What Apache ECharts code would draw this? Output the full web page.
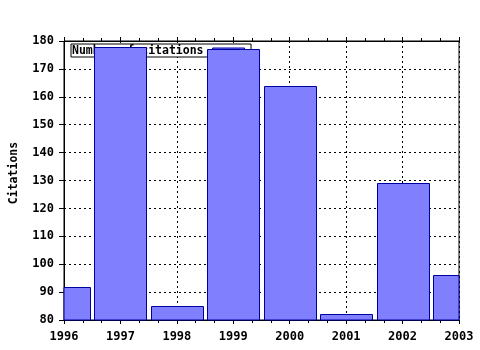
<!DOCTYPE html>
<html><head><meta charset="utf-8">
<script src="https://cdn.jsdelivr.net/npm/echarts@6/dist/echarts.min.js"></script>
<style>html,body{margin:0;padding:0;background:#fff}#c{width:480px;height:350px}</style>
</head><body><div id="c"></div>
<script>
var years = [1996, 1997, 1998, 1999, 2000, 2001, 2002, 2003];
var citations = [92, 178, 85, 177, 164, 82, 129, 96];
var yTicks = [80, 90, 100, 110, 120, 130, 140, 150, 160, 170, 180];
var seriesName = 'Number of citations';
var yName = 'Citations';

var FONT = 'DejaVu Sans Mono';
var chart = echarts.init(document.getElementById('c'), null, {renderer: 'canvas'});
var data = years.map(function (y, i) { return [y, citations[i]]; });
var dotted = {show: true, lineStyle: {color: '#000', type: [2, 3], width: 1}};
var lbl = {fontFamily: FONT, fontWeight: 'bold', fontSize: 12, color: '#000'};
var yMin = yTicks[0];
function renderBar(params, api) {
  var x = api.value(0), v = api.value(1);
  var top = api.coord([x, v]);
  var base = api.coord([x, yMin]);
  var w = api.size([1, 0])[0] * 0.92;
  var cs = params.coordSys;
  var r = echarts.graphic.clipRectByRect(
    {x: Math.round(top[0] - w / 2) + 0.5, y: Math.round(top[1]) + 0.5, width: Math.round(w), height: base[1] - top[1]},
    {x: cs.x, y: cs.y, width: cs.width, height: cs.height});
  if (!r) return null;
  return {type: 'rect', shape: r, style: api.style()};
}
chart.setOption({
  animation: false,
  grid: {left: 64, right: 21, top: 41, bottom: 30, show: true, borderColor: '#000', borderWidth: 1},
  legend: {
    show: true, left: 71, top: 44, z: 1, align: 'right',
    backgroundColor: '#fff', borderColor: '#000', borderWidth: 1,
    padding: [1, 6, 0, 1], itemWidth: 32, itemHeight: 6, itemGap: 4,
    icon: 'rect',
    itemStyle: {color: '#8080ff', borderColor: '#0000a0', borderWidth: 1},
    textStyle: {fontFamily: FONT, fontWeight: 'bold', fontSize: 11.5, color: '#000', padding: [0, 4, 0, 0]},
    data: [seriesName]
  },
  xAxis: [{
    type: 'value', min: years[0], max: years[years.length - 1], interval: 1,
    axisLine: {show: true, lineStyle: {color: '#000'}},
    axisTick: {show: true, length: 4, lineStyle: {color: '#000'}},
    minorTick: {show: true, splitNumber: 3, length: 3, lineStyle: {color: '#000'}},
    axisLabel: Object.assign({margin: 11, formatter: function (v) { return String(v); }}, lbl),
    splitLine: dotted
  }, {
    type: 'value', position: 'top', min: years[0], max: years[years.length - 1], interval: 1,
    axisLine: {show: true, lineStyle: {color: '#000'}},
    axisTick: {show: true, length: 4, lineStyle: {color: '#000'}},
    minorTick: {show: true, splitNumber: 3, length: 3, lineStyle: {color: '#000'}},
    axisLabel: {show: false}, splitLine: {show: false}
  }],
  yAxis: {
    type: 'value', min: yTicks[0], max: yTicks[yTicks.length - 1], interval: 10,
    axisLine: {show: true, lineStyle: {color: '#000'}},
    axisTick: {show: true, length: 5, lineStyle: {color: '#000'}},
    axisLabel: Object.assign({margin: 10}, lbl),
    splitLine: dotted
  },
  graphic: [{
    type: 'text', x: 14, y: 173, rotation: Math.PI / 2,
    style: {text: yName, fontFamily: FONT, fontWeight: 'bold', fontSize: 11.5, fill: '#000',
      align: 'center', verticalAlign: 'middle'}
  }],
  series: [{
    name: seriesName, type: 'custom', xAxisIndex: 0, data: data, z: 2,
    encode: {x: 0, y: 1},
    renderItem: renderBar,
    itemStyle: {color: '#8080ff', borderColor: '#0000a0', borderWidth: 1}
  }]
});
</script></body></html>
